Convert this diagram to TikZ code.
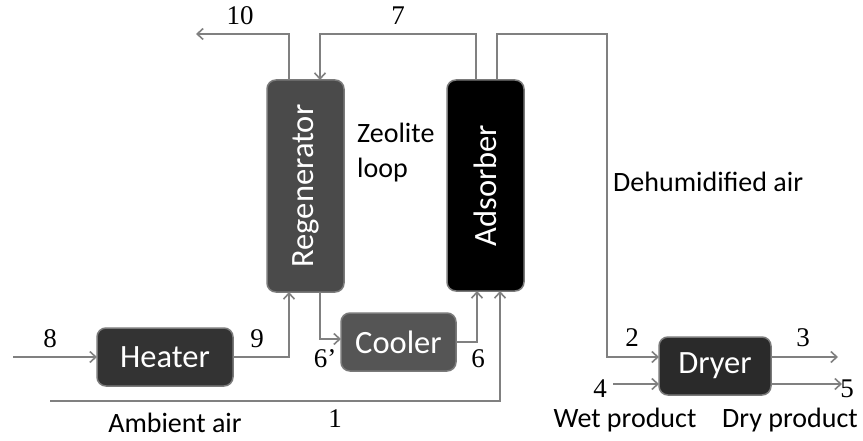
\documentclass[tikz,border=0pt]{standalone}
\usepackage{fontspec}
\setmainfont{Carlito}
\newfontfamily\numfont{Liberation Serif}
\usetikzlibrary{arrows.meta}
\definecolor{flowgray}{HTML}{808080}
\definecolor{edgegray}{HTML}{7A7A7A}
\definecolor{regfill}{HTML}{4A4A4A}
\definecolor{coolfill}{HTML}{555555}
\definecolor{heatfill}{HTML}{333333}
\definecolor{dryfill}{HTML}{2A2A2A}
\begin{document}
\begin{tikzpicture}[x=1pt,y=-1pt,
  unitbox/.style={draw=edgegray, line width=1.5pt, rounded corners=9pt, text=white,
    inner sep=0pt, outer sep=0pt, font=\fontsize{32.5}{36}\selectfont},
  flow/.style={draw=flowgray, line width=1.6pt},
  flowarrow/.style={flow, -{Straight Barb[length=6pt,width=11pt]}},
  numlabel/.style={anchor=base, inner sep=0pt, font=\numfont\fontsize{27}{30}\selectfont},
  txtlabel/.style={anchor=base, inner sep=0pt, font=\fontsize{28}{35}\selectfont}]
\useasboundingbox (0,0) rectangle (863,441);

% units
\node[unitbox, fill=regfill, minimum width=77pt, minimum height=212pt] (reg) at (305.5,186) {\rotatebox{90}{Regenerator}};
\node[unitbox, fill=black, minimum width=77pt, minimum height=211pt] (ads) at (485.5,185.5) {\rotatebox{90}{Adsorber}};
\node[unitbox, fill=heatfill, minimum width=136pt, minimum height=58pt] (heater) at (165,357) {Heater};
\node[unitbox, fill=coolfill, minimum width=115pt, minimum height=58pt] (cooler) at (398.5,342) {Cooler};
\node[unitbox, fill=dryfill, minimum width=112pt, minimum height=58pt] (dryer) at (715,366) {Dryer};

% free ends and corners
\coordinate (c10) at (196,34);
\coordinate (c7) at (320,34);
\coordinate (cdh) at (607,34);
\coordinate (in4) at (613,384);
\coordinate (out3) at (838,357);
\coordinate (out5) at (842,384);
\coordinate (in8) at (13,357);
\coordinate (in1) at (50,401);

% streams
\draw[flowarrow] ([xshift=-16.5pt]reg.north) |- (c10);
\draw[flowarrow] ([xshift=-9.5pt]ads.north) |- (c7) -- ([xshift=14.5pt]reg.north);
\draw[flowarrow] ([xshift=11.5pt]ads.north) |- (cdh) |- ([yshift=9pt]dryer.west);
\draw[flowarrow] (in4) -- (in4 -| dryer.west);
\draw[flowarrow] (out3 -| dryer.east) -- (out3);
\draw[flowarrow] (out5 -| dryer.east) -- (out5);
\draw[flowarrow] (in8) -- (heater.west);
\draw[flowarrow] (heater.east) -| ([xshift=-16.5pt]reg.south);
\draw[flowarrow] ([xshift=14.5pt]reg.south) |- ([yshift=3pt]cooler.west);
\draw[flowarrow] (cooler.east) -| ([xshift=-8.5pt]ads.south);
\draw[flowarrow] (in1) -| ([xshift=14.5pt]ads.south);

% stream numbers
\node[numlabel] (n10) at (240,25) {10};
\node[numlabel] (n7) at (398,25) {7};
\node[numlabel] (n8) at (50,347) {8};
\node[numlabel] (n9) at (257,347) {9};
\node[numlabel] (n6p) at (325,367) {6’};
\node[numlabel] (n6) at (478,367) {6};
\node[numlabel] (n1) at (335,427) {1};
\node[numlabel] (n2) at (632,346) {2};
\node[numlabel] (n3) at (803,346) {3};
\node[numlabel] (n4) at (600,397) {4};
\node[numlabel] (n5) at (847,397) {5};

% text labels
\node[txtlabel] (amb) at (175,432) {Ambient air};
\node[txtlabel] (wet) at (625,427) {Wet product};
\node[txtlabel] (dry) at (790,427) {Dry product};
\node[txtlabel, anchor=base west] (dehum) at (613,192) {Dehumidified air};
\node[txtlabel, anchor=base west, align=left] (zeo) at (357,178) {Zeolite\\loop};
\end{tikzpicture}
\end{document}
